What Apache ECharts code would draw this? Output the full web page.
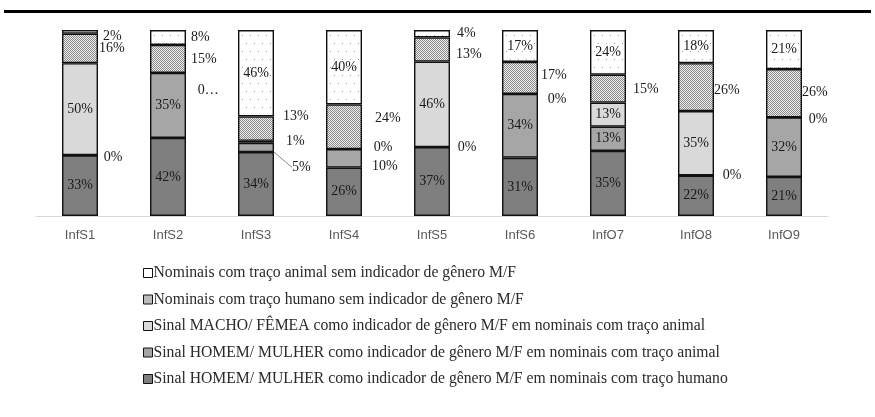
<!DOCTYPE html>
<html>
<head>
<meta charset="utf-8">
<script src="https://cdn.jsdelivr.net/npm/echarts@6/dist/echarts.min.js"></script>
<style>
  html, body { margin: 0; padding: 0; background: #fff; }
  #chart { width: 875px; height: 417px; }
</style>
</head>
<body>
<div id="chart"></div>
<script>
const categories = ['InfS1', 'InfS2', 'InfS3', 'InfS4', 'InfS5', 'InfS6', 'InfO7', 'InfO8', 'InfO9']

const seriesNames = [
  'Nominais com traço animal sem indicador de gênero M/F',
  'Nominais com traço humano sem indicador de gênero M/F',
  'Sinal MACHO/ FÊMEA como indicador de gênero M/F em nominais com traço animal',
  'Sinal HOMEM/ MULHER como indicador de gênero M/F em nominais com traço animal',
  'Sinal HOMEM/ MULHER como indicador de gênero M/F em nominais com traço humano'
]

// percentagens (ordem da legenda, de cima para baixo na pilha)
const animalSemIndicador = [2, 8, 46, 40, 4, 17, 24, 18, 21]
const humanoSemIndicador = [16, 15, 13, 24, 13, 17, 15, 26, 26]
const machoFemea = [50, 0, 1, 0, 46, 0, 13, 35, 0]
const homemMulherAnimal = [0, 35, 5, 10, 0, 34, 13, 0, 32]
const homemMulherHumano = [33, 42, 34, 26, 37, 31, 35, 22, 21]

// rotulo truncado no original
const truncatedLabels = { '2-1': '0…' }

// posicao dos rotulos: null = dentro, [distancia, dy] = à direita
const labelPlacement = [
  [[5, 4], [5, 0], null, null, [7, 0], null, null, null, null],
  [[1, 0], [5, 0], [9, -12], [13, -8], [6, 5], [3, -3], [7, 1], [0, 3], [0, -1]],
  [null, [11, 18], [12, 0], [11, -2], null, [9, 5], null, null, [6, 2]],
  [[5, 2], null, [18, 20], [10, 8], [7, 0], null, null, [8, 0], null],
  [null, null, null, null, null, null, null, null, null]
]

function makePattern (size, draw) {
  const c = document.createElement('canvas')
  c.width = size[0]
  c.height = size[1]
  const ctx = c.getContext('2d')
  draw(ctx)
  return c
}

const dotPattern = makePattern([8, 16], ctx => {
  ctx.fillStyle = '#ffffff'
  ctx.fillRect(0, 0, 8, 16)
  ctx.fillStyle = '#9a9a9a'
  ctx.fillRect(2, 3, 1, 1)
  ctx.fillRect(6, 11, 1, 1)
})

const checkPattern = makePattern([2, 2], ctx => {
  ctx.fillStyle = '#ececec'
  ctx.fillRect(0, 0, 2, 2)
  ctx.fillStyle = '#8c8c8c'
  ctx.fillRect(0, 0, 1, 1)
  ctx.fillRect(1, 1, 1, 1)
})

const fills = [
  { image: dotPattern, repeat: 'repeat' },
  { image: checkPattern, repeat: 'repeat' },
  '#d9d9d9',
  '#a6a6a6',
  '#7f7f7f'
]
const legendFills = ['#ffffff', { image: checkPattern, repeat: 'repeat' }, '#d9d9d9', '#a6a6a6', '#7f7f7f']

const allValues = [animalSemIndicador, humanoSemIndicador, machoFemea, homemMulherAnimal, homemMulherHumano]
const totals = categories.map((_, i) => allValues.reduce((s, arr) => s + arr[i], 0))

const serif = '"Liberation Serif", "DejaVu Serif", serif'

function buildSeries (k) {
  const values = allValues[k]
  return {
    name: seriesNames[k],
    type: 'bar',
    stack: 'total',
    barWidth: 36,
    itemStyle: {
      color: fills[k],
      borderColor: '#111111',
      borderWidth: 1.4
    },
    labelLine: { show: true, lineStyle: { color: '#888888', width: 1 } },
    labelLayout: params => {
      const place = labelPlacement[k][params.dataIndex]
      return place ? { dy: place[1] } : {}
    },
    data: values.map((v, i) => {
      const place = labelPlacement[k][i]
      const label = place
        ? { position: 'right', distance: place[0] }
        : { position: 'inside' }
      return {
        value: v / totals[i] * 100,
        label,
        labelLine: { show: k === 3 && i === 2 }
      }
    }),
    label: {
      show: true,
      fontFamily: serif,
      fontSize: 14,
      color: '#1a1a1a',
      formatter: p => truncatedLabels[k + '-' + p.dataIndex] || (values[p.dataIndex] + '%')
    }
  }
}

const chart = echarts.init(document.getElementById('chart'))

const option = {
  animation: false,
  grid: { left: 36, right: 47, top: 30, bottom: 201 },
  legend: {
    data: seriesNames.map((name, k) => ({
      name,
      icon: 'rect',
      itemStyle: { color: legendFills[k], borderColor: '#111111', borderWidth: 1 }
    })),
    orient: 'vertical',
    left: 138,
    top: 260,
    itemGap: 10.5,
    itemWidth: 9,
    itemHeight: 9,
    selectedMode: false,
    textStyle: {
      fontFamily: serif,
      fontSize: 15.7,
      lineHeight: 14,
      color: '#2a2a2a',
      padding: [0, 0, 0, -4]
    }
  },
  xAxis: {
    type: 'category',
    data: categories,
    axisLine: { lineStyle: { color: '#d9d9d9', width: 1 } },
    axisTick: { show: false },
    axisLabel: {
      fontFamily: '"Liberation Sans", Arial, sans-serif',
      fontSize: 13,
      color: '#595959',
      margin: 13
    }
  },
  yAxis: {
    type: 'value',
    min: 0,
    max: 100,
    show: false,
    splitLine: { show: false }
  },
  graphic: [
    {
      type: 'rect',
      left: 4,
      top: 10,
      shape: { width: 867, height: 3 },
      style: { fill: '#000000' }
    }
  ],
  series: [4, 3, 2, 1, 0].map(buildSeries)
}

chart.setOption(option)
</script>
</body>
</html>
